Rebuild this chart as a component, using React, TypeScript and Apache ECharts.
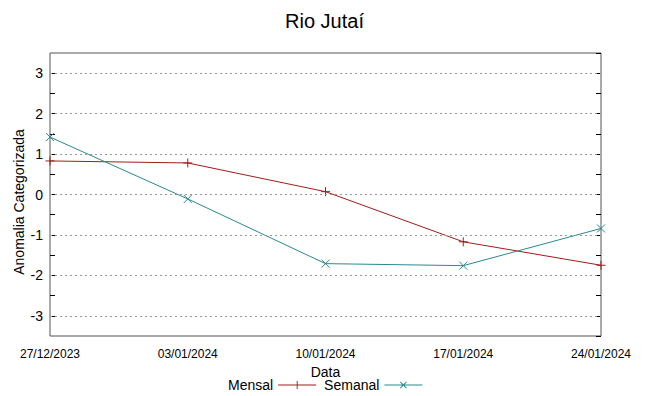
import React, { useEffect, useRef } from "react";
import * as echarts from "echarts";

const categories = ["27/12/2023", "03/01/2024", "10/01/2024", "17/01/2024", "24/01/2024"];
const mensal = [0.83, 0.78, 0.07, -1.17, -1.75];
const semanal = [1.42, -0.11, -1.71, -1.76, -0.84];
const yTicks = [-3, -2, -1, 0, 1, 2, 3];

const RED = "#a01c1c";
const TEAL = "#2a8a8a";
const FONT = "'Liberation Sans', Arial, sans-serif";

export default function App() {
  const ref = useRef<HTMLDivElement>(null);
  useEffect(() => {
    const chart = echarts.init(ref.current!, null, { renderer: "svg" });
    const plus = "path://M-1,0L1,0M0,-1L0,1";
    const cross = "path://M-1,-1L1,1M-1,1L1,-1";
    const legPlus = "path://M0,4.6h38v0.9h-38zM18.6,1h0.9v8h-0.9z";
    const legCross =
      "path://M0,4.6h38v0.9h-38zM15.6,2.2l0.6,-0.6l6.2,6.2l-0.6,0.6zM15.6,7.8l6.2,-6.2l0.6,0.6l-6.2,6.2z";
    chart.setOption({
      animation: false,
      backgroundColor: "#fff",
      textStyle: { fontFamily: FONT },
      title: {
        text: "Rio Jutaí",
        left: "center",
        top: 6,
        textStyle: { fontSize: 20, fontWeight: "normal", color: "#000", fontFamily: FONT },
      },
      graphic: [
        {
          type: "text",
          x: 19,
          y: 202,
          rotation: Math.PI / 2,
          style: {
            text: "Anomalia Categorizada",
            fontSize: 14,
            fontFamily: FONT,
            fill: "#000",
            align: "center",
            verticalAlign: "middle",
          },
        },
      ],
      grid: {
        left: 50,
        right: 48,
        top: 53,
        bottom: 60,
        show: true,
        borderColor: "#555",
        borderWidth: 1,
        backgroundColor: "transparent",
      },
      legend: {
        left: 223,
        top: 373,
        align: "right",
        itemWidth: 38,
        itemHeight: 10,
        itemGap: 8,
        textStyle: { fontSize: 14, color: "#000", fontFamily: FONT, padding: [0, 0, 0, 0] },
        data: [
          { name: "Mensal", icon: legPlus, itemStyle: { color: RED, borderWidth: 0 } },
          { name: "Semanal", icon: legCross, itemStyle: { color: TEAL, borderWidth: 0 } },
        ],
      },
      xAxis: {
        type: "category",
        data: categories,
        boundaryGap: false,
        name: "Data",
        nameLocation: "middle",
        nameGap: 27,
        nameTextStyle: { fontSize: 14, color: "#000", fontFamily: FONT },
        axisLine: { show: false },
        axisTick: { show: false },
        axisLabel: { fontSize: 12, color: "#000", margin: 12, fontFamily: FONT, interval: 0 },
        splitLine: { show: false },
      },
      yAxis: [
        {
          type: "value",
          min: -3.5,
          max: 3.5,
          interval: 0.5,
          axisLine: { show: false },
          axisTick: {
            show: true,
            inside: true,
            length: 5,
            lineStyle: { color: "#000" },
            interval: (i: number, v: string) => yTicks.includes(Number(v)),
          },
          axisLabel: {
            fontSize: 14,
            color: "#000",
            margin: 7,
            fontFamily: FONT,
            formatter: (v: number) => (yTicks.includes(v) ? String(v) : ""),
            showMinLabel: false,
            showMaxLabel: false,
          },
          splitLine: { show: false },
        },
        {
          type: "value",
          position: "right",
          min: -3.5,
          max: 3.5,
          interval: 0.5,
          axisLine: { show: false },
          axisTick: {
            show: true,
            inside: true,
            length: 5,
            lineStyle: { color: "#000" },
            interval: (i: number, v: string) => yTicks.includes(Number(v)),
          },
          axisLabel: { show: false },
          splitLine: { show: false },
        },
      ],
      series: [
        {
          name: "grid",
          type: "line",
          data: [],
          silent: true,
          markLine: {
            silent: true,
            symbol: "none",
            label: { show: false },
            lineStyle: { color: "#999", type: [2, 3], width: 1 },
            data: yTicks.map((t) => ({ yAxis: t })),
          },
        },
        {
          name: "Mensal",
          type: "line",
          data: mensal,
          symbol: plus,
          symbolSize: 9,
          lineStyle: { color: RED, width: 1 },
          itemStyle: { color: RED, borderColor: RED, borderWidth: 1 },
        },
        {
          name: "Semanal",
          type: "line",
          data: semanal,
          symbol: cross,
          symbolSize: 8,
          lineStyle: { color: TEAL, width: 1 },
          itemStyle: { color: TEAL, borderColor: TEAL, borderWidth: 1 },
        },
      ],
    });
    return () => chart.dispose();
  }, []);
  return <div ref={ref} style={{ width: 649, height: 396, position: "absolute", left: 0, top: 0 }} />;
}
